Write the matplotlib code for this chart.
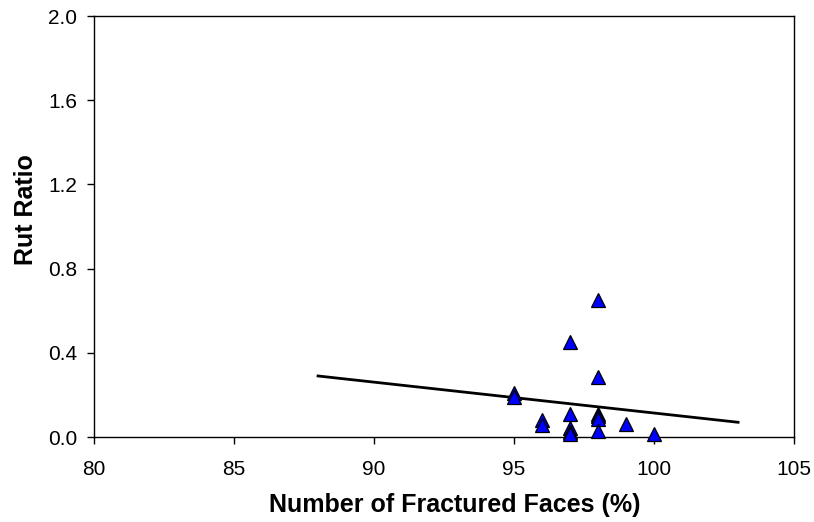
import matplotlib
matplotlib.use('Agg')
import matplotlib.pyplot as plt
from matplotlib.ticker import FormatStrFormatter

plt.rcParams['font.family'] = ['Liberation Sans', 'DejaVu Sans']

# fractured faces (%) and rut ratio for each section
faces = [95, 95, 96, 96, 97, 97, 97, 97, 97, 98, 98, 98, 98, 98, 98, 99, 100]
rut = [0.21, 0.19, 0.08, 0.055, 0.45, 0.11, 0.045, 0.025, 0.015,
       0.65, 0.285, 0.11, 0.10, 0.085, 0.03, 0.06, 0.015]

# trend line end points
trend_x = [88, 103]
trend_y = [0.29, 0.07]

xticks = [80, 85, 90, 95, 100, 105]
yticks = [0.0, 0.4, 0.8, 1.2, 1.6, 2.0]

fig = plt.figure(figsize=(8.14, 5.22), dpi=100)
ax = fig.add_axes([0.1155, 0.1628, 0.86, 0.8065])

ax.plot(trend_x, trend_y, color='black', linewidth=2)
ax.plot(faces, rut, linestyle='none', marker='^', markersize=10,
        markerfacecolor='#0000ff', markeredgecolor='black', markeredgewidth=0.9,
        zorder=3, clip_on=False)

ax.set_xlim(80, 105)
ax.set_ylim(0, 2.0)
ax.set_xticks(xticks)
ax.set_yticks(yticks)
ax.yaxis.set_major_formatter(FormatStrFormatter('%.1f'))
ax.tick_params(direction='out', length=5, width=1, labelsize=15)
ax.tick_params(axis='x', pad=11.5)
ax.tick_params(axis='y', pad=7)
for s in ax.spines.values():
    s.set_linewidth(1)

ax.set_xlabel('Number of Fractured Faces (%)', fontsize=18, fontweight='bold')
ax.set_ylabel('Rut Ratio', fontsize=18, fontweight='bold')
ax.xaxis.set_label_coords(0.515, -0.133)
ax.yaxis.set_label_coords(-0.08, 0.54)

fig.savefig('out.png', dpi=100)
